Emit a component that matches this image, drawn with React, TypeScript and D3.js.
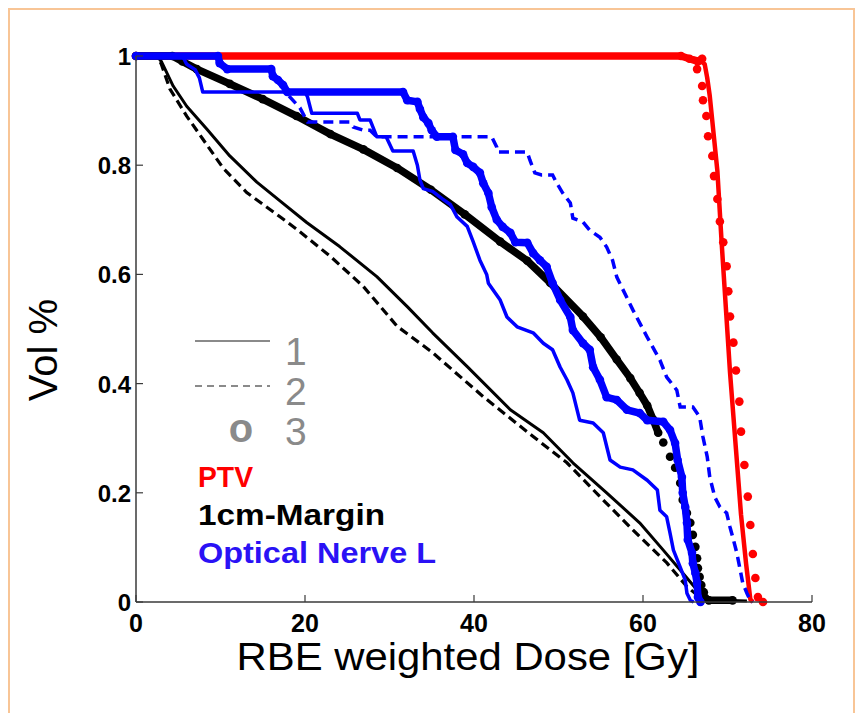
import React from "react";
import * as d3 from "d3";

type P = [number, number];

// ---------- data (dose Gy, volume fraction) ----------
const xTicks = [0, 20, 40, 60, 80];
const yTicks = [0, 0.2, 0.4, 0.6, 0.8, 1];
const yTickLabels = ["0", "0.2", "0.4", "0.6", "0.8", "1"];
const methodLabels = ["1", "2", "3"];
const structureNames = ["PTV", "1cm-Margin", "Optical Nerve L"];
const structureColors = ["#ff0000", "#000000", "#2a12f5"];
const structureLabelWidths = [55, 187, 238];

// PTV
const ptv1: P[] = [[0, 1], [64, 1], [65.5, 0.997], [66.7, 0.993], [67.3, 0.985], [67.6, 0.96], [67.9, 0.927], [68.8, 0.79], [69.3, 0.66], [69.8, 0.54], [70.3, 0.42], [71.0, 0.28], [71.6, 0.16], [72.2, 0.07], [72.7, 0.005], [73, 0]];
const ptv3Dense: P[] = [[0, 1], [64.5, 1], [65.5, 0.995], [66.5, 0.99], [67.0, 0.995]];
const ptv3Dots: P[] = [[66.4, 0.976], [67.0, 0.945], [67.1, 0.919], [67.5, 0.89], [67.7, 0.853], [68.2, 0.817], [68.4, 0.78], [68.8, 0.738], [69.1, 0.697], [69.5, 0.659], [69.9, 0.615], [70.1, 0.569], [70.3, 0.523], [70.7, 0.475], [71.0, 0.424], [71.4, 0.367], [71.6, 0.312], [72.0, 0.251], [72.4, 0.193], [72.7, 0.141], [73.0, 0.088], [73.3, 0.044], [73.6, 0.009], [74.2, 0.0]];

// 1cm-Margin
const margin1: P[] = [[0, 1], [2.5, 1], [3, 0.99], [4.4, 0.945], [6.0, 0.908], [8.4, 0.866], [11.1, 0.817], [14.3, 0.769], [17.0, 0.735], [20.2, 0.695], [24.1, 0.651], [28.5, 0.596], [32.1, 0.541], [35.1, 0.493], [39.2, 0.431], [44.3, 0.352], [48.2, 0.31], [51.7, 0.255], [55.7, 0.2], [59.6, 0.145], [62.4, 0.095], [64.7, 0.053], [66.4, 0.022], [67.9, 0.007], [69.5, 0.003], [72.3, 0.002]];
const margin2: P[] = [[0, 1], [2.5, 1], [3, 0.985], [4.0, 0.94], [6.0, 0.89], [7.9, 0.848], [10.3, 0.795], [13.1, 0.75], [17.0, 0.706], [19.0, 0.683], [23.0, 0.633], [26.9, 0.578], [30.9, 0.505], [35.0, 0.458], [41.1, 0.376], [47.0, 0.303], [51.0, 0.255], [54.9, 0.193], [58.8, 0.132], [62.8, 0.072], [65.2, 0.028], [66.7, 0.009], [68, 0.003], [71, 0.002]];
const margin3Dense: P[] = [[0, 1], [4.3, 1], [5.5, 0.99], [7.2, 0.976], [11.1, 0.949], [15, 0.921], [19, 0.89], [23, 0.857], [26.9, 0.829], [30.9, 0.795], [34.9, 0.755], [38.9, 0.71], [43.1, 0.66], [46.3, 0.625], [49, 0.585], [52.9, 0.523], [55, 0.485], [56.9, 0.444], [58.5, 0.41], [59.6, 0.383], [60.5, 0.36], [61.2, 0.334], [61.8, 0.31]];
const margin3Dots: P[] = [[62.4, 0.292], [63.2, 0.266], [63.8, 0.246], [64.4, 0.218], [64.7, 0.187], [65.2, 0.163], [65.6, 0.145], [65.9, 0.123], [66.2, 0.101], [66.4, 0.08], [66.5, 0.062], [66.7, 0.046], [66.9, 0.031], [67.2, 0.018]];
const margin3Tail: P[] = [[67.3, 0.008], [67.8, 0.003], [70.6, 0.003]];

// Optical Nerve L
const nerve1: P[] = [[0, 1], [5.5, 1], [6, 0.985], [7, 0.975], [7.5, 0.96], [7.9, 0.934], [20.0, 0.934], [20.3, 0.925], [20.8, 0.895], [26.2, 0.895], [26.5, 0.883], [27.7, 0.883], [28.5, 0.852], [29.6, 0.852], [30.4, 0.826], [32.8, 0.826], [33.3, 0.8], [33.6, 0.773], [34.0, 0.757], [35.1, 0.752], [36.3, 0.738], [37.2, 0.728], [38.0, 0.705], [39.2, 0.688], [39.9, 0.66], [40.7, 0.626], [41.5, 0.6], [41.7, 0.584], [43.1, 0.553], [43.9, 0.522], [45.1, 0.504], [47.0, 0.493], [48.2, 0.474], [49.3, 0.462], [50.2, 0.43], [51.0, 0.407], [51.7, 0.383], [52.5, 0.333], [54.1, 0.328], [55.3, 0.31], [56.1, 0.26], [57.3, 0.247], [58.8, 0.242], [60.5, 0.223], [61.7, 0.205], [62.0, 0.168], [62.8, 0.156], [63.2, 0.126], [63.6, 0.095], [64.4, 0.064], [65.0, 0.04], [65.2, 0.016], [65.6, 0.003], [66, 0]];
const nerve2: P[] = [[0, 1], [9.8, 1], [10.5, 0.976], [16, 0.976], [17, 0.95], [17.8, 0.934], [18.2, 0.925], [19.4, 0.905], [20.3, 0.879], [25.3, 0.879], [25.7, 0.87], [26.9, 0.864], [27.7, 0.864], [28.5, 0.852], [42.1, 0.852], [42.7, 0.833], [42.8, 0.824], [46.3, 0.824], [46.6, 0.81], [47.2, 0.786], [48.0, 0.782], [49.3, 0.782], [49.8, 0.767], [50.5, 0.749], [51.4, 0.731], [51.7, 0.703], [52.9, 0.696], [53.7, 0.681], [54.9, 0.668], [55.7, 0.65], [56.4, 0.626], [56.9, 0.595], [58.8, 0.535], [60.5, 0.485], [62.0, 0.443], [62.8, 0.412], [64.0, 0.388], [64.4, 0.357], [65.9, 0.357], [66.7, 0.339], [67.1, 0.302], [67.6, 0.266], [67.9, 0.229], [68.5, 0.192], [69.1, 0.174], [69.9, 0.163], [70.3, 0.137], [70.7, 0.114], [71.1, 0.09], [71.5, 0.059], [71.8, 0.035], [72.3, 0.016], [72.7, 0.003], [73, 0]];
const nerve3Dense: P[] = [[0, 1], [9.7, 1], [9.9, 0.987], [10.8, 0.976], [16.0, 0.976], [16.2, 0.963], [16.8, 0.956], [17.4, 0.947], [17.9, 0.934], [31.6, 0.934], [32.1, 0.919], [33.3, 0.916], [33.6, 0.903], [34.0, 0.888], [34.6, 0.877], [35.0, 0.864], [35.6, 0.852], [37.5, 0.852], [37.8, 0.828], [38.7, 0.82], [39.2, 0.804], [39.9, 0.797], [40.7, 0.786], [41.1, 0.767], [41.7, 0.749], [42.1, 0.723], [42.7, 0.7], [43.4, 0.687], [44.3, 0.676], [44.9, 0.659], [46.3, 0.658], [47.0, 0.639], [47.8, 0.626], [48.6, 0.614], [49.3, 0.584], [50.2, 0.553], [51.4, 0.522], [51.7, 0.498], [52.9, 0.474], [53.7, 0.462], [54.1, 0.43], [54.9, 0.407], [55.7, 0.375], [56.9, 0.37], [58.1, 0.352], [59.6, 0.346], [60.5, 0.333], [62.4, 0.33], [63.2, 0.315], [63.8, 0.291], [64.1, 0.26], [64.6, 0.229], [64.7, 0.2], [65.0, 0.174], [65.2, 0.145], [65.3, 0.114], [65.8, 0.09], [65.9, 0.071], [66.2, 0.053], [66.4, 0.035], [66.5, 0.009], [66.8, 0]];

// ---------- layout ----------
const W = 862, H = 713;
const x = d3.scaleLinear().domain([0, 80]).range([136, 812]);
const y = d3.scaleLinear().domain([0, 1]).range([602, 56]);
const line = d3.line<P>().x(d => x(d[0])).y(d => y(d[1]));
const AXIS = "#3a3a3a";
const GRAY = "#8a8a8a";
const FONT = "'Liberation Sans', Arial, Helvetica, sans-serif";

function Dotted({ dense, dots, color }: { dense: P[][]; dots: P[]; color: string }) {
  return (
    <g>
      {dense.map((seg, i) => (
        <g key={i}>
          <path d={line(seg) || ""} fill="none" stroke={color} strokeWidth={7.5} strokeLinejoin="round" strokeLinecap="round" />
          {seg.map((p, j) => <circle key={j} cx={x(p[0])} cy={y(p[1])} r={4.3} fill={color} />)}
        </g>
      ))}
      {dots.map((p, j) => <circle key={"d" + j} cx={x(p[0])} cy={y(p[1])} r={4.3} fill={color} />)}
    </g>
  );
}

export default function App() {
  return (
    <svg width={W} height={H} style={{ position: "absolute", left: 0, top: 0, background: "#fff" }} fontFamily={FONT}>
      <rect x={9} y={9} width={845} height={720} fill="#fff" stroke="#f8c596" strokeWidth={2} />

      {/* PTV */}
      <path d={line(ptv1) || ""} fill="none" stroke="#ff0000" strokeWidth={4.5} strokeLinejoin="round" />
      <Dotted dense={[ptv3Dense]} dots={ptv3Dots} color="#ff0000" />

      {/* 1cm margin */}
      <path d={line(margin1) || ""} fill="none" stroke="#000" strokeWidth={3} strokeLinejoin="round" />
      <path d={line(margin2) || ""} fill="none" stroke="#000" strokeWidth={3.2} strokeDasharray="9,5" />
      <Dotted dense={[margin3Dense, margin3Tail]} dots={margin3Dots} color="#000" />

      {/* optical nerve */}
      <path d={line(nerve1) || ""} fill="none" stroke="#0000ff" strokeWidth={3.5} strokeLinejoin="round" />
      <path d={line(nerve2) || ""} fill="none" stroke="#0000ff" strokeWidth={3.5} strokeDasharray="10,6" />
      <Dotted dense={[nerve3Dense]} dots={[]} color="#0000ff" />

      {/* axes */}
      <line x1={x(0)} x2={x(80)} y1={y(0)} y2={y(0)} stroke={AXIS} strokeWidth={1.5} />
      <line x1={x(0)} x2={x(0)} y1={y(0)} y2={y(1)} stroke={AXIS} strokeWidth={1.5} />
      {xTicks.map(t => (
        <g key={"x" + t}>
          <line x1={x(t)} x2={x(t)} y1={y(0)} y2={y(0) - 7} stroke={AXIS} strokeWidth={1.2} />
          <text x={x(t)} y={y(0) + 30} textAnchor="middle" fontSize={25} fontWeight="bold" fill="#000">{t}</text>
        </g>
      ))}
      {yTicks.map((t, i) => (
        <g key={"y" + t}>
          <line x1={x(0)} x2={x(0) + 7} y1={y(t)} y2={y(t)} stroke={AXIS} strokeWidth={1.2} />
          <text x={x(0) - 5} y={y(t) + 9} textAnchor="end" fontSize={24} fontWeight="bold" fill="#000">{yTickLabels[i]}</text>
        </g>
      ))}

      <text x={468} y={670} textAnchor="middle" fontSize={38} fill="#000" textLength={463} lengthAdjust="spacingAndGlyphs">RBE weighted Dose [Gy]</text>
      <text transform="translate(57,350) rotate(-90)" textAnchor="middle" fontSize={40} fill="#000">Vol %</text>

      {/* legend: line styles */}
      <line x1={195} x2={270} y1={341} y2={341} stroke={GRAY} strokeWidth={2.2} />
      <line x1={195} x2={270} y1={386} y2={386} stroke={GRAY} strokeWidth={2.2} strokeDasharray="7,5" />
      <text x={241} y={442} textAnchor="middle" fontSize={40} fontWeight="bold" fill={GRAY}>o</text>
      {methodLabels.map((m, i) => (
        <text key={m} x={285} y={365 + i * 40} fontSize={39} fill={GRAY}>{m}</text>
      ))}
      {structureNames.map((s, i) => (
        <text key={s} x={198} y={487 + i * 38} fontSize={30} fontWeight="bold" fill={structureColors[i]} textLength={structureLabelWidths[i]} lengthAdjust="spacingAndGlyphs">{s}</text>
      ))}
    </svg>
  );
}
